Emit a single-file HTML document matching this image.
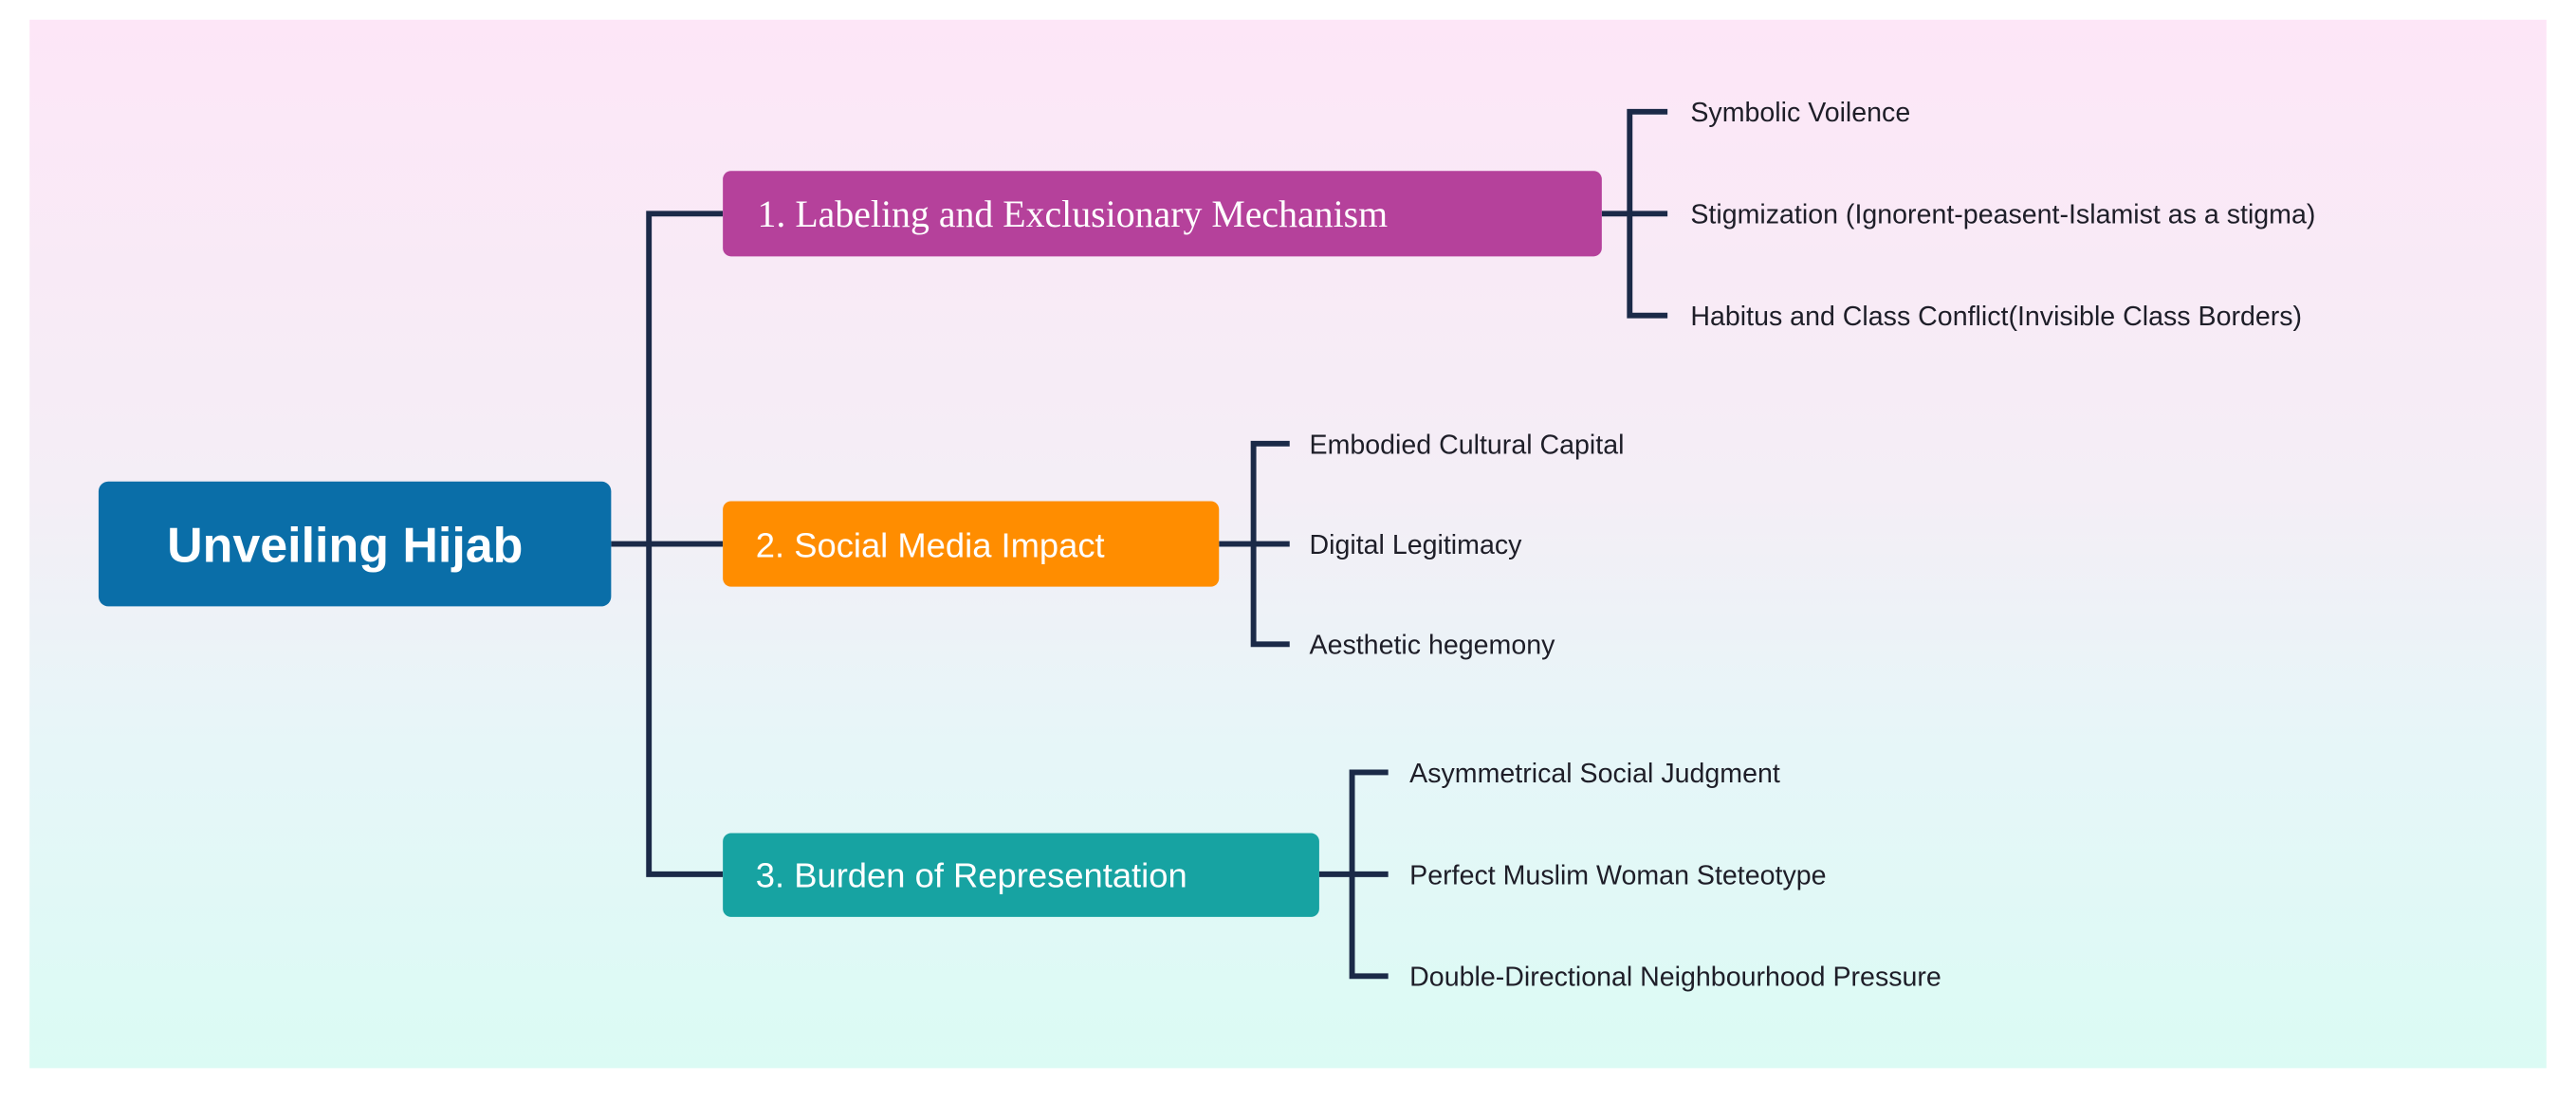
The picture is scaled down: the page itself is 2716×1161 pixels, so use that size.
<!DOCTYPE html>
<html><head><meta charset="utf-8"><style>
html,body{margin:0;padding:0;background:#fff;}
svg{display:block;}
</style></head><body>
<svg width="2716" height="1161" viewBox="0 0 1568 670" preserveAspectRatio="none" xmlns="http://www.w3.org/2000/svg">
<defs>
<linearGradient id="bg" x1="0" y1="0" x2="0" y2="1">
<stop offset="0" stop-color="#fde6f7"/>
<stop offset="0.45" stop-color="#f4eef6"/>
<stop offset="0.7" stop-color="#e6f6f8"/>
<stop offset="1" stop-color="#dbfbf4"/>
</linearGradient>
</defs>
<rect x="0" y="0" width="1568" height="670" fill="#fff"/>
<rect x="18" y="12" width="1532" height="638" fill="url(#bg)"/>
<g stroke="#1b2a48" stroke-width="3.4" fill="none">
<path d="M372 331 H440"/>
<path d="M440 130 H395 V532 H440"/>
<path d="M975 130 H1015"/>
<path d="M1015 68 H992 V192 H1015"/>
<path d="M742 331 H785"/>
<path d="M785 270 H763 V392 H785"/>
<path d="M803 532 H845"/>
<path d="M845 470 H823 V594 H845"/>
</g>
<rect x="60" y="293" width="312" height="76" rx="6" fill="#0a6ea8"/>
<text x="210" y="342" text-anchor="middle" font-family="Liberation Sans, sans-serif" font-weight="bold" font-size="30" fill="#fff">Unveiling Hijab</text>
<rect x="440" y="104" width="535" height="52" rx="5" fill="#b5419b"/>
<text x="461" y="138" font-family="Liberation Serif, serif" font-size="23" fill="#fff">1. Labeling and Exclusionary Mechanism</text>
<rect x="440" y="305" width="302" height="52" rx="5" fill="#ff8d00"/>
<text x="460" y="339" font-family="Liberation Sans, sans-serif" font-size="21" fill="#fff">2. Social Media Impact</text>
<rect x="440" y="507" width="363" height="51" rx="5" fill="#17a3a2"/>
<text x="460" y="540" font-family="Liberation Sans, sans-serif" font-size="21" fill="#fff">3. Burden of Representation</text>
<g font-family="Liberation Sans, sans-serif" font-size="16.5" fill="#1e1e28">
<text x="1029" y="74">Symbolic Voilence</text>
<text x="1029" y="136">Stigmization (Ignorent-peasent-Islamist as a stigma)</text>
<text x="1029" y="198">Habitus and Class Conflict(Invisible Class Borders)</text>
<text x="797" y="276">Embodied Cultural Capital</text>
<text x="797" y="337">Digital Legitimacy</text>
<text x="797" y="398">Aesthetic hegemony</text>
<text x="858" y="476">Asymmetrical Social Judgment</text>
<text x="858" y="538">Perfect Muslim Woman Steteotype</text>
<text x="858" y="600">Double-Directional Neighbourhood Pressure</text>
</g>
</svg>
</body></html>
